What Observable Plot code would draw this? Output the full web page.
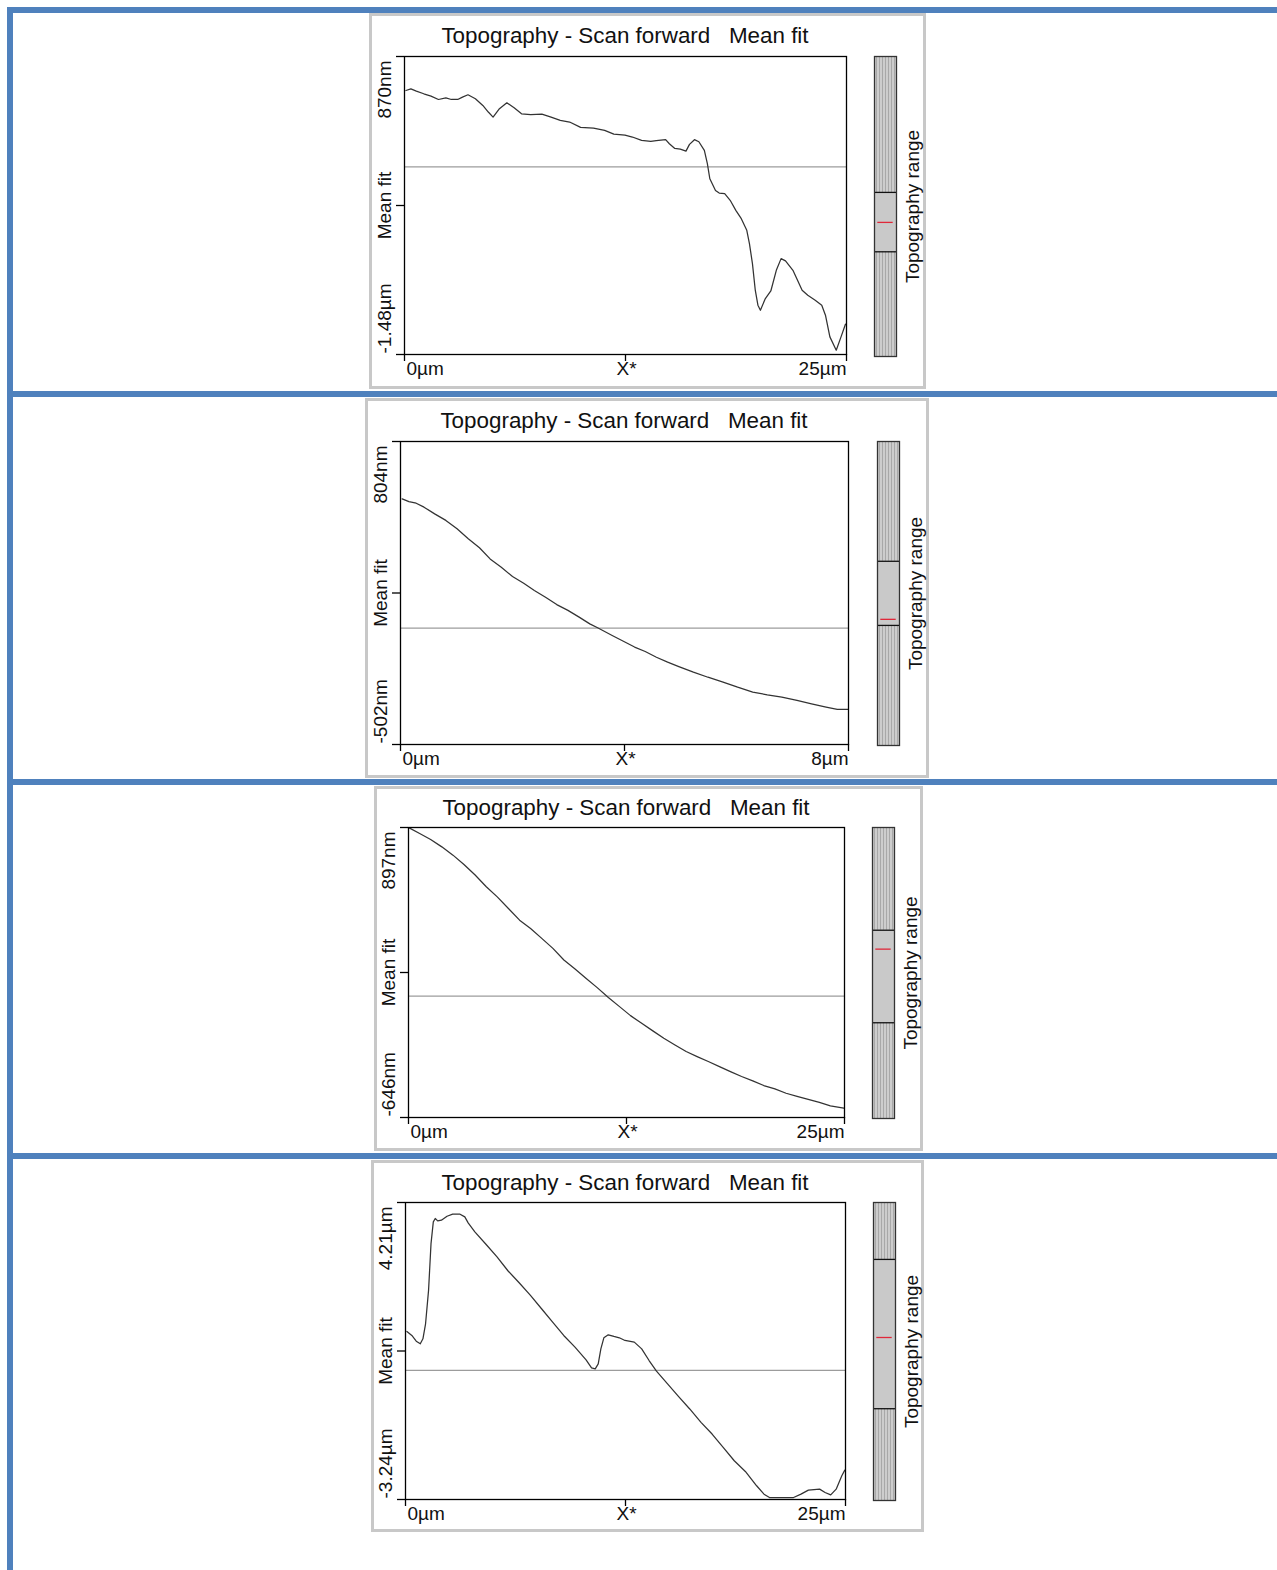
<!DOCTYPE html>
<html><head><meta charset="utf-8">
<script src="https://cdn.jsdelivr.net/npm/d3@7"></script>
<script src="https://cdn.jsdelivr.net/npm/@observablehq/plot@0.6"></script>
<style>
body{margin:0;background:#fff;width:1277px;height:1570px;position:relative;overflow:hidden;font-family:"Liberation Sans",Arial,sans-serif;}
.blue{position:absolute;background:#4f81bd;}
.box{position:absolute;border:3px solid #c8c8c8;box-sizing:border-box;}
.title{position:absolute;font-size:22.4px;line-height:22px;white-space:pre;color:#111;transform:translateX(-50%);}
.abs{position:absolute;}
.abs svg{overflow:visible;}
</style></head><body>
<svg width="0" height="0" style="position:absolute"><defs>
<pattern id="hatch" width="3" height="4" patternUnits="userSpaceOnUse"><rect width="3" height="4" fill="#cdcdcd"/><rect width="1" height="4" fill="#a8a8a8"/></pattern>
</defs></svg>
<script>
// ---------- data ----------
const titleText = "Topography - Scan forward   Mean fit";
const xStartLabel = "0µm";
const xMidLabel = "X*";
const yMidLabel = "Mean fit";
const rangeLabel = "Topography range";

const panelXMax = [25, 8, 25, 25];
const panelXEndLabels = ["25µm", "8µm", "25µm", "25µm"];
const panelYMin = [-1480, -502, -646, -3.24];
const panelYMax = [870, 804, 897, 4.21];
const panelYMinLabels = ["-1.48µm", "-502nm", "-646nm", "-3.24µm"];
const panelYMaxLabels = ["870nm", "804nm", "897nm", "4.21µm"];
const meanFit = [0, 0, 0, 0];

// topography range indicator (fraction of full range, 0 = bottom)
const rangeSegLow = [0.349, 0.395, 0.329, 0.308];
const rangeSegHigh = [0.547, 0.606, 0.647, 0.809];
const rangeMark = [0.447, 0.415, 0.582, 0.547];

// profiles [x (µm), height]
const profile1 = [[0.08,602],[0.36,615],[0.67,597],[1.09,576],[1.5,558],[1.92,531],[2.34,544],[2.65,531],[3.01,531],[3.28,550],[3.59,568],[4.01,537],[4.43,484],[4.74,432],[5.01,392],[5.37,458],[5.79,505],[6.2,466],[6.62,418],[7.14,411],[7.77,416],[8.29,392],[8.81,366],[9.34,353],[9.96,311],[10.69,305],[11.32,287],[11.84,258],[12.47,250],[12.89,235],[13.41,208],[13.93,200],[14.24,206],[14.77,214],[14.98,182],[15.29,145],[15.6,140],[15.92,124],[16.12,177],[16.4,214],[16.65,198],[16.96,130],[17.13,25],[17.27,-94],[17.59,-186],[17.8,-207],[18.11,-212],[18.42,-264],[18.74,-343],[19.05,-409],[19.36,-501],[19.51,-606],[19.68,-763],[19.84,-973],[19.99,-1091],[20.13,-1131],[20.41,-1039],[20.72,-979],[21.03,-816],[21.3,-724],[21.55,-742],[21.97,-816],[22.49,-973],[22.81,-1013],[23.23,-1052],[23.6,-1091],[23.81,-1170],[24.06,-1341],[24.42,-1446],[24.69,-1341],[24.94,-1241]];
const profile2 = [[0.03,557],[0.15,545],[0.28,538],[0.42,521],[0.61,492],[0.81,464],[1.01,428],[1.21,385],[1.41,346],[1.6,298],[1.8,262],[2.0,222],[2.2,193],[2.39,162],[2.59,133],[2.79,101],[2.99,76],[3.19,47],[3.38,18],[3.52,1],[3.78,-32],[3.98,-57],[4.18,-82],[4.37,-101],[4.57,-126],[4.77,-147],[4.97,-166],[5.23,-190],[5.49,-212],[5.76,-233],[6.02,-255],[6.29,-276],[6.55,-288],[6.81,-298],[7.08,-312],[7.34,-327],[7.6,-341],[7.8,-351],[7.99,-351]];
const profile3 = [[0.04,895],[0.64,865],[1.27,833],[1.91,794],[2.55,750],[3.18,700],[3.82,644],[4.46,582],[5.09,528],[5.73,466],[6.37,404],[7.0,360],[7.64,307],[8.28,254],[8.91,192],[9.55,144],[10.19,94],[10.82,45],[11.46,-8],[12.1,-56],[12.73,-104],[13.37,-145],[14.01,-185],[14.64,-224],[15.28,-260],[15.92,-295],[16.55,-322],[17.19,-348],[17.83,-375],[18.46,-402],[19.1,-428],[19.74,-451],[20.37,-476],[21.01,-494],[21.65,-517],[22.28,-534],[22.92,-550],[23.56,-566],[24.19,-584],[24.96,-596]];
const profile4 = [[0.08,0.975],[0.36,0.875],[0.61,0.732],[0.84,0.665],[0.99,0.791],[1.14,1.168],[1.31,2.006],[1.45,3.179],[1.58,3.724],[1.69,3.808],[1.83,3.749],[2.04,3.766],[2.36,3.866],[2.68,3.917],[3.1,3.917],[3.37,3.85],[3.56,3.699],[3.94,3.473],[4.57,3.162],[5.2,2.844],[5.83,2.492],[6.47,2.19],[7.1,1.88],[7.73,1.545],[8.36,1.21],[8.99,0.875],[9.63,0.581],[10.26,0.263],[10.57,0.062],[10.78,0.037],[10.95,0.162],[11.1,0.539],[11.27,0.816],[11.52,0.891],[11.84,0.85],[12.15,0.816],[12.47,0.749],[13.0,0.707],[13.42,0.539],[13.84,0.246],[14.26,-0.022],[14.89,-0.341],[15.52,-0.659],[16.15,-0.969],[16.79,-1.304],[17.42,-1.598],[18.05,-1.933],[18.68,-2.268],[19.31,-2.536],[19.95,-2.896],[20.37,-3.106],[20.68,-3.19],[21.42,-3.19],[22.05,-3.19],[22.47,-3.106],[22.89,-3.005],[23.53,-2.98],[23.84,-3.064],[24.16,-3.123],[24.47,-2.98],[24.79,-2.645],[24.96,-2.503]];
const profiles = [profile1, profile2, profile3, profile4];

// ---------- layout (page pixels) ----------
const blueBars = [
  {x:7, y:7, w:6, h:1563}, {x:7, y:7, w:1270, h:6},
  {x:7, y:391, w:1270, h:6}, {x:7, y:779, w:1270, h:6}, {x:7, y:1153, w:1270, h:6}
];
const layout = [
  {box:[369,13,557,376], fx:404, fy:56, fw:442, fh:298, tb:44, cx:874, cy:56, cw:22, ch:300},
  {box:[365,398,564,380], fx:400, fy:441, fw:448, fh:303, tb:429, cx:877, cy:441, cw:22, ch:304},
  {box:[374,786,549,365], fx:408, fy:827, fw:436, fh:290, tb:816, cx:872, cy:827, cw:22, ch:291},
  {box:[371,1160,553,372], fx:405, fy:1202, fw:440, fh:297, tb:1191, cx:873, cy:1202, cw:22, ch:298}
];
const FONT = '"Liberation Sans", Arial, sans-serif';

function place(el, x, y) {
  const d = document.createElement("div");
  d.className = "abs"; d.style.left = x + "px"; d.style.top = y + "px";
  d.appendChild(el); document.body.appendChild(d);
}

for (const b of blueBars) {
  const d = document.createElement("div");
  d.className = "blue";
  Object.assign(d.style, {left:b.x+"px", top:b.y+"px", width:b.w+"px", height:b.h+"px"});
  document.body.appendChild(d);
}

layout.forEach((L, i) => {
  const box = document.createElement("div");
  box.className = "box";
  Object.assign(box.style, {left:L.box[0]+"px", top:L.box[1]+"px", width:L.box[2]+"px", height:L.box[3]+"px"});
  document.body.appendChild(box);

  const t = document.createElement("div");
  t.className = "title";
  t.textContent = titleText;
  t.style.left = (L.fx + L.fw / 2) + "px";
  t.style.top = (L.tb - 18.6) + "px";
  document.body.appendChild(t);

  const xMax = panelXMax[i], yMin = panelYMin[i], yMax = panelYMax[i];
  const yMid = (yMin + yMax) / 2;
  const data = profiles[i].map(([x, y]) => ({x, y}));
  const mL = 40, mR = 8, mT = 8, mB = 32;
  const fs = 19;
  const chart = Plot.plot({
    width: L.fw + mL + mR, height: L.fh + mT + mB,
    marginLeft: mL, marginRight: mR, marginTop: mT, marginBottom: mB,
    x: {domain: [0, xMax], axis: null},
    y: {domain: [yMin, yMax], axis: null},
    style: {fontFamily: FONT, fontSize: fs + "px", color: "#000", background: "transparent"},
    marks: [
      Plot.ruleY([meanFit[i]], {stroke: "#9c9c9c", strokeWidth: 1.2}),
      Plot.line(data, {x: "x", y: "y", stroke: "#333", strokeWidth: 1.25}),
      Plot.frame({stroke: "#000", strokeWidth: 1.3}),
      Plot.axisX({ticks: [0, xMax / 2, xMax], tickSize: 7, tickFormat: () => "", label: null, strokeWidth: 1.3}),
      Plot.axisY({ticks: [yMin, yMid, yMax], tickSize: 8, tickFormat: () => "", label: null, strokeWidth: 1.3}),
      Plot.text([{x: 0, t: xStartLabel}], {x: "x", text: "t", frameAnchor: "bottom", dy: 20, dx: 2, textAnchor: "start", fontSize: fs, fill: "#111"}),
      Plot.text([{x: xMax / 2, t: xMidLabel}], {x: "x", text: "t", frameAnchor: "bottom", dy: 20, dx: 1, textAnchor: "middle", fontSize: fs, fill: "#111"}),
      Plot.text([{x: xMax, t: panelXEndLabels[i]}], {x: "x", text: "t", frameAnchor: "bottom", dy: 20, textAnchor: "end", fontSize: fs, fill: "#111"}),
      Plot.text([{y: yMax, t: panelYMaxLabels[i]}], {y: "y", text: "t", frameAnchor: "left", rotate: -90, dx: -20, dy: 4, textAnchor: "end", fontSize: fs, fill: "#111"}),
      Plot.text([{y: yMid, t: yMidLabel}], {y: "y", text: "t", frameAnchor: "left", rotate: -90, dx: -20, textAnchor: "middle", fontSize: fs, fill: "#111"}),
      Plot.text([{y: yMin, t: panelYMinLabels[i]}], {y: "y", text: "t", frameAnchor: "left", rotate: -90, dx: -20, dy: -1, textAnchor: "start", fontSize: fs, fill: "#111"})
    ]
  });
  place(chart, L.fx - mL, L.fy - mT);

  const cbM = 1, cbR = 40;
  const cb = Plot.plot({
    width: L.cw + cbM + cbR, height: L.ch + 2 * cbM,
    marginLeft: cbM, marginRight: cbR, marginTop: cbM, marginBottom: cbM,
    x: {domain: [0, 1], axis: null},
    y: {domain: [0, 1], axis: null},
    style: {fontFamily: FONT, fontSize: fs + "px", color: "#000", background: "transparent"},
    marks: [
      Plot.rect([0], {x1: 0, x2: 1, y1: 0, y2: 1, fill: "url(#hatch)"}),
      Plot.rect([0], {x1: 0, x2: 1, y1: rangeSegLow[i], y2: rangeSegHigh[i], fill: "#c9c9c9"}),
      Plot.ruleY([rangeSegLow[i], rangeSegHigh[i]], {stroke: "#111", strokeWidth: 1.3}),
      Plot.ruleY([rangeMark[i]], {x1: 0.15, x2: 0.85, stroke: "#e0283a", strokeWidth: 1.3}),
      Plot.frame({stroke: "#333", strokeWidth: 1.3}),
      Plot.text([rangeLabel], {frameAnchor: "right", rotate: -90, dx: 16, textAnchor: "middle", lineAnchor: "middle", fontSize: fs, fill: "#111"})
    ]
  });
  place(cb, L.cx - cbM, L.cy - cbM);
});
</script>
</body></html>
